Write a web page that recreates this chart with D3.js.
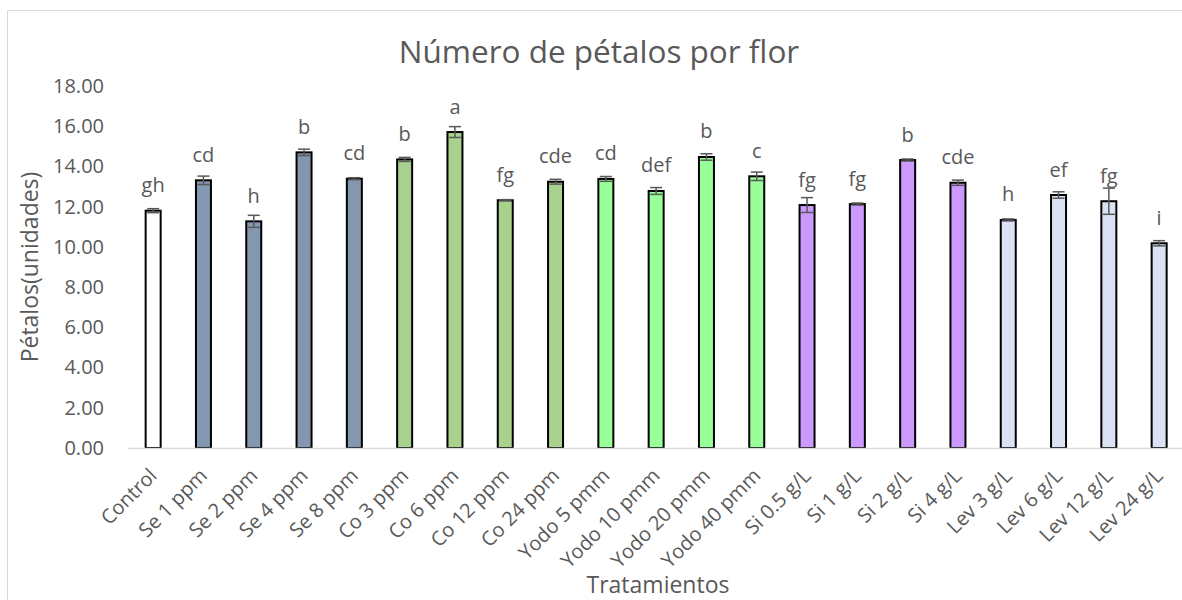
<!DOCTYPE html>
<html>
<head>
<meta charset="utf-8">
<script src="https://cdn.jsdelivr.net/npm/d3@7"></script>
<style>
  body { margin: 0; background: #fff; }
  svg text { font-family: "Open Sans", Calibri, sans-serif; fill: #595959; }
</style>
</head>
<body>
<svg id="chart" width="1182" height="600"></svg>
<script>
// treatments and readings
var categories = ['Control', 'Se 1 ppm', 'Se 2 ppm', 'Se 4 ppm', 'Se 8 ppm',
  'Co 3 ppm', 'Co 6 ppm', 'Co 12 ppm', 'Co 24 ppm',
  'Yodo 5 pmm', 'Yodo 10 pmm', 'Yodo 20 pmm', 'Yodo 40 pmm',
  'Si 0.5 g/L', 'Si 1 g/L', 'Si 2 g/L', 'Si 4 g/L',
  'Lev 3 g/L', 'Lev 6 g/L', 'Lev 12 g/L', 'Lev 24 g/L'];
var values = [11.80, 13.31, 11.27, 14.70, 13.39, 14.35, 15.71, 12.32, 13.24,
  13.38, 12.78, 14.47, 13.51, 12.08, 12.13, 14.32, 13.19, 11.34, 12.58, 12.27, 10.18];
var errors = [0.10, 0.21, 0.30, 0.16, 0.05, 0.10, 0.27, 0.03, 0.12,
  0.12, 0.17, 0.16, 0.21, 0.37, 0.05, 0.05, 0.13, 0.05, 0.16, 0.65, 0.13];
var letters = ['gh', 'cd', 'h', 'b', 'cd', 'b', 'a', 'fg', 'cde',
  'cd', 'def', 'b', 'c', 'fg', 'fg', 'b', 'cde', 'h', 'ef', 'fg', 'i'];
var groups = ['Control', 'Se', 'Se', 'Se', 'Se', 'Co', 'Co', 'Co', 'Co',
  'Yodo', 'Yodo', 'Yodo', 'Yodo', 'Si', 'Si', 'Si', 'Si', 'Lev', 'Lev', 'Lev', 'Lev'];
var yTicks = [0, 2, 4, 6, 8, 10, 12, 14, 16, 18];

var groupColors = {
  Control: '#ffffff', Se: '#8497b0', Co: '#a9d18e',
  Yodo: '#99ff99', Si: '#cc99ff', Lev: '#dae3f3'
};

var margin = {top: 86, left: 128, bottom: 152},
  height = 600 - margin.top - margin.bottom,
  bandW = 50.3,
  pad = 1 - 15 / bandW;

var svg = d3.select('#chart');

// chart frame (right edge is cut off in the source)
svg.append('path')
  .attr('d', 'M7.5,600 L7.5,10.5 L1182,10.5')
  .attr('fill', 'none')
  .attr('stroke', '#d9d9d9')
  .attr('stroke-width', 1);

var g = svg.append('g')
  .attr('transform', 'translate(' + margin.left + ',' + margin.top + ')');

var x = d3.scaleBand()
  .domain(categories)
  .range([0, bandW * categories.length])
  .paddingInner(pad)
  .paddingOuter(pad / 2);

var y = d3.scaleLinear()
  .domain([0, 18])
  .range([height, 0]);

var data = categories.map(function (c, i) {
  return {cat: c, v: values[i], e: errors[i], lab: letters[i], grp: groups[i]};
});

// y axis (no line, labels only)
var yAxis = g.append('g')
  .call(d3.axisLeft(y).tickValues(yTicks).tickSize(0).tickPadding(24)
    .tickFormat(d3.format('.2f')));
yAxis.select('.domain').remove();
yAxis.selectAll('text')
  .style('font-size', '20px')
  .style('fill', '#595959')
  .style('font-family', '"Open Sans", sans-serif');

// bars
g.selectAll('.bar')
  .data(data)
  .enter().append('rect')
  .attr('class', 'bar')
  .attr('x', function (d) { return x(d.cat); })
  .attr('width', x.bandwidth())
  .attr('y', function (d) { return y(d.v); })
  .attr('height', function (d) { return height - y(d.v); })
  .attr('fill', function (d) { return groupColors[d.grp]; })
  .attr('stroke', '#000')
  .attr('stroke-width', 2);

// x axis line
g.append('line')
  .attr('x1', 0).attr('x2', 1182 - margin.left)
  .attr('y1', height + 0.5).attr('y2', height + 0.5)
  .attr('stroke', '#d9d9d9')
  .attr('stroke-width', 1.5);

// error bars
var eb = g.selectAll('.err')
  .data(data)
  .enter().append('g')
  .attr('class', 'err')
  .attr('stroke', '#595959')
  .attr('stroke-width', 1.5);
eb.append('line')
  .attr('x1', function (d) { return x(d.cat) + x.bandwidth() / 2; })
  .attr('x2', function (d) { return x(d.cat) + x.bandwidth() / 2; })
  .attr('y1', function (d) { return y(d.v + d.e); })
  .attr('y2', function (d) { return y(d.v - d.e); });
eb.selectAll('.cap')
  .data(function (d) { return [d.v + d.e, d.v - d.e].map(function (v) { return {cat: d.cat, v: v}; }); })
  .enter().append('line')
  .attr('x1', function (d) { return x(d.cat) + x.bandwidth() / 2 - 6; })
  .attr('x2', function (d) { return x(d.cat) + x.bandwidth() / 2 + 6; })
  .attr('y1', function (d) { return y(d.v); })
  .attr('y2', function (d) { return y(d.v); });

// significance letters
g.selectAll('.letter')
  .data(data)
  .enter().append('text')
  .attr('class', 'letter')
  .attr('x', function (d) { return x(d.cat) + x.bandwidth() / 2; })
  .attr('y', function (d) { return y(d.v) - 18.5; })
  .attr('text-anchor', 'middle')
  .style('font-size', '20px')
  .text(function (d) { return d.lab; });

// category labels
g.selectAll('.xlab')
  .data(categories)
  .enter().append('text')
  .attr('class', 'xlab')
  .attr('text-anchor', 'end')
  .attr('transform', function (d) {
    return 'translate(' + (x(d) + x.bandwidth() / 2 + 5) + ',' + (height + 29) + ') rotate(-45)';
  })
  .style('font-size', '20px')
  .text(function (d) { return d; });

// titles
svg.append('text')
  .attr('x', 599)
  .attr('y', 63)
  .attr('text-anchor', 'middle')
  .style('font-size', '31.5px')
  .text('Número de pétalos por flor');

svg.append('text')
  .attr('transform', 'translate(38,267) rotate(-90)')
  .attr('text-anchor', 'middle')
  .style('font-size', '23px')
  .text('Pétalos(unidades)');

svg.append('text')
  .attr('x', 658)
  .attr('y', 593)
  .attr('text-anchor', 'middle')
  .style('font-size', '23px')
  .text('Tratamientos');
</script>
</body>
</html>
